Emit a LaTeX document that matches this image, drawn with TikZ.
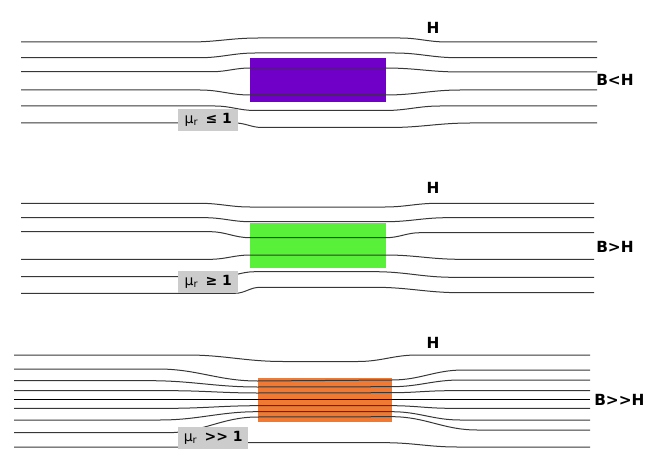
\documentclass[tikz,border=0pt]{standalone}
\usepackage{fontspec}
\setmainfont{DejaVu Sans}
\definecolor{matviolet}{RGB}{112,0,200}
\definecolor{matgreen}{RGB}{88,240,56}
\definecolor{matorange}{RGB}{240,122,52}
\definecolor{labelgray}{RGB}{204,204,204}
\definecolor{linegray}{RGB}{55,55,55}
\tikzset{
  fieldline/.style={draw=linegray, line width=0.75pt},
  fieldtext/.style={font=\fontsize{11.5}{13}\selectfont\bfseries, inner sep=0pt},
  murbox/.style={fill=labelgray, anchor=west, minimum height=16.5pt, inner xsep=1pt,
    font=\fontsize{10.5}{12}\selectfont\bfseries}
}
\begin{document}
\begin{tikzpicture}[x=0.75pt, y=-0.75pt]
  \useasboundingbox (0,0) rectangle (650,460);
      %%material 1
      \fill[matviolet](250, 58) rectangle (386, 102);
        \draw[fieldline](21, 42) -- (190, 42) to[out=0, in=180] (258, 38) -- (400, 38) to[out=0, in=180] (447, 42) -- (597, 42);
        \draw[fieldline](21, 57.7) -- (200, 57.7) to[out=0, in=180] (255, 53) -- (395, 53) to[out=0, in=180] (457, 57.7) -- (597, 57.7);
        \draw[fieldline](21, 71.7) -- (212, 71.7) to[out=0, in=180] (250, 68) -- (386, 68) to[out=0, in=180] (460, 72) -- (597, 72);
        \draw[fieldline](21, 90) -- (200, 90) to[out=0, in=180] (250, 95) -- (386, 95) to[out=0, in=180] (460, 90) -- (597, 90);
        \draw[fieldline](21, 106) -- (215, 106) to[out=0, in=180] (255, 110.5) -- (385, 110.5) to[out=0, in=180] (440, 106) -- (597, 106);
        \draw[fieldline](21, 123) -- (235, 123) to[out=0, in=180] (262, 127.5) -- (390, 127.5) to[out=0, in=180] (470, 123) -- (597, 123);
      \node[fieldtext] (H1) at (433, 28) {H};
      \node[fieldtext, anchor=west] (B1) at (596, 80) {B<H};
      \node[murbox, minimum width=45pt] (mu1) at (178, 120) {{\mdseries μ\textsubscript{r}}\ \,≤ 1};

      %%material 2
      \fill[matgreen](250, 223.3) rectangle (386, 267.7);
        \draw[fieldline](21, 203.3) -- (200, 203.3) to[out=0, in=180] (250, 207) -- (385, 207) to[out=0, in=180] (437, 203.3) -- (594, 203.3);
        \draw[fieldline](21, 217.7) -- (205, 217.7) to[out=0, in=180] (250, 221.7) -- (386, 221.7) to[out=0, in=180] (447, 217.7) -- (594, 217.7);
        \draw[fieldline](21, 231.7) -- (210, 231.7) to[out=0, in=180] (250, 237.7) -- (386, 237.7) to[out=0, in=180] (420, 232.7) -- (594, 232.7);
        \draw[fieldline](21, 259.3) -- (210, 259.3) to[out=0, in=180] (250, 255) -- (386, 255) to[out=0, in=180] (460, 259.3) -- (594, 259.3);
        \draw[fieldline](21, 276.7) -- (220, 276.7) to[out=0, in=180] (255, 271.7) -- (375, 271.7) to[out=0, in=180] (453, 277.3) -- (594, 277.3);
        \draw[fieldline](21, 293.3) -- (235, 293.3) to[out=0, in=180] (260, 287.3) -- (375, 287.3) to[out=0, in=180] (460, 292.7) -- (594, 292.7);
      \node[fieldtext] (H2) at (433, 188) {H};
      \node[fieldtext, anchor=west] (B2) at (596, 246.5) {B>H};
      \node[murbox, minimum width=45pt] (mu2) at (178, 282) {{\mdseries μ\textsubscript{r}}\ \,≥ 1};

      %%material 3
      \fill[matorange](257.5, 378.3) rectangle (392, 421.7);
        \draw[fieldline](14, 355) -- (187, 355) to[out=0, in=180] (283, 361.5) -- (358, 361.5) to[out=0, in=180] (417, 355) -- (590, 355);
        \draw[fieldline](14, 369) -- (158, 369) to[out=0, in=180] (257.5, 381) -- (392, 380) to[out=0, in=180] (463, 370) -- (590, 370);
        \draw[fieldline](14, 380.7) -- (150, 380.7) to[out=0, in=180] (257.5, 387) -- (392, 386.7) to[out=0, in=180] (460, 380) -- (590, 380);
        \draw[fieldline](14, 390.7) -- (170, 390.7) to[out=0, in=180] (257.5, 393) -- (392, 392.7) to[out=0, in=180] (450, 390.7) -- (590, 390.7);
        \draw[fieldline, draw=black, line width=0.95pt](14, 399.3) -- (590, 399.3);
        \draw[fieldline](14, 408.3) -- (170, 408.3) to[out=0, in=180] (257.5, 405.7) -- (392, 405.7) to[out=0, in=180] (450, 408.3) -- (590, 408.3);
        \draw[fieldline](14, 420) -- (160, 420) to[out=0, in=180] (257.5, 411.7) -- (392, 411.7) to[out=0, in=180] (460, 420) -- (590, 420);
        \draw[fieldline](14, 432.7) -- (167, 432.7) to[out=0, in=180] (257.5, 417) -- (392, 416.7) to[out=0, in=180] (477, 430) -- (590, 430);
        \draw[fieldline](14, 447) -- (200, 447) to[out=0, in=180] (250, 442.7) -- (385, 442.7) to[out=0, in=180] (457, 447) -- (590, 447);
      \node[fieldtext] (H3) at (433, 343) {H};
      \node[fieldtext, anchor=west] (B3) at (594, 400) {B>{}>H};
      \node[murbox, minimum width=52.5pt] (mu3) at (178, 437.5) {{\mdseries μ\textsubscript{r}}\ \,>{}> 1};
\end{tikzpicture}
\end{document}
